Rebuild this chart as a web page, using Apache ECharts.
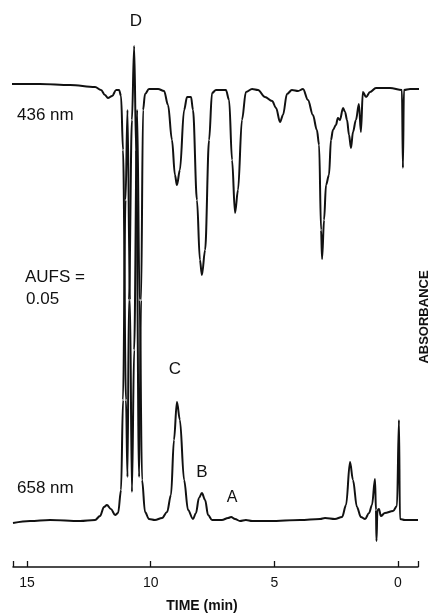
<!DOCTYPE html>
<html>
<head>
<meta charset="utf-8">
<script src="https://cdn.jsdelivr.net/npm/echarts@6.0.0/dist/echarts.min.js"></script>
<style>
  html, body { margin: 0; padding: 0; background: #fff; }
  #chart { width: 431px; height: 616px; }
</style>
</head>
<body>
<div id="chart"></div>
<script>
// retention time (min) and detector response (arbitrary units, 0 = time axis)
var time436 = [15.69, 14.48, 13.26, 12.25, 12.01, 11.85, 11.73, 11.56, 11.40, 11.28, 11.20, 11.12, 11.00, 10.94, 10.88, 10.76, 10.67, 10.59, 10.47, 10.39, 10.31, 10.23, 10.07, 9.70, 9.46, 9.30, 9.14, 9.02, 8.94, 8.82, 8.65, 8.53, 8.37, 8.29, 8.13, 8.01, 7.93, 7.80, 7.64, 7.52, 7.36, 6.96, 6.83, 6.71, 6.59, 6.47, 6.31, 6.15, 5.90, 5.66, 5.38, 5.09, 4.93, 4.77, 4.65, 4.49, 4.29, 4.04, 3.84, 3.64, 3.44, 3.28, 3.19, 3.11, 3.07, 2.99, 2.91, 2.79, 2.71, 2.63, 2.51, 2.43, 2.35, 2.22, 2.14, 2.06, 1.98, 1.90, 1.82, 1.70, 1.58, 1.50, 1.42, 1.29, 1.13, 0.89, 0.32, -0.16, -0.20, -0.24, -0.49, -0.89];
var abs436 = [483, 483, 482, 480, 477, 472, 469, 471, 477, 477, 471, 417, 167, 90, 267, 447, 521, 417, 90, 267, 457, 473, 478, 478, 476, 462, 427, 392, 382, 397, 457, 470, 470, 457, 367, 307, 292, 317, 427, 474, 477, 477, 467, 407, 354, 377, 447, 475, 478, 477, 470, 466, 459, 445, 452, 473, 477, 476, 478, 467, 452, 437, 422, 337, 308, 347, 382, 392, 427, 437, 442, 449, 447, 459, 455, 447, 432, 419, 435, 447, 463, 435, 475, 470, 475, 479, 479, 477, 399, 477, 478, 478];

var time658 = [15.57, 14.88, 14.07, 12.86, 12.25, 12.05, 11.89, 11.77, 11.61, 11.44, 11.32, 11.20, 11.12, 11.02, 10.94, 10.84, 10.76, 10.67, 10.55, 10.45, 10.35, 10.23, 10.07, 9.83, 9.54, 9.34, 9.18, 9.06, 8.94, 8.82, 8.65, 8.49, 8.29, 8.17, 8.05, 7.93, 7.80, 7.68, 7.52, 7.12, 6.87, 6.75, 6.59, 6.39, 6.15, 5.90, 5.18, 3.96, 3.15, 2.95, 2.55, 2.26, 2.10, 1.94, 1.82, 1.66, 1.50, 1.33, 1.17, 1.05, 0.93, 0.89, 0.87, 0.83, 0.77, 0.69, 0.53, 0.20, 0.04, -0.04, -0.08, -0.28, -0.81];
var abs658 = [44, 46, 47, 46, 47, 51, 60, 62, 58, 52, 54, 77, 167, 367, 457, 267, 75, 217, 457, 267, 87, 55, 48, 47, 49, 55, 72, 127, 165, 147, 87, 57, 48, 54, 69, 74, 67, 52, 47, 47, 49, 50, 48, 46, 47, 46, 46, 47, 48, 49, 48, 50, 62, 105, 87, 60, 50, 48, 54, 62, 88, 57, 26, 57, 58, 51, 54, 56, 61, 147, 48, 47, 47];

var tickLabels = [0, 5, 10, 15];
var axisStart = 15.57;
var axisEnd = -0.81;

function pairs(t, v) {
  return t.map(function (x, i) { return [x, v[i]]; });
}

var chart = echarts.init(document.getElementById("chart"));
var font = "Liberation Sans, Arial, sans-serif";

function label(text, x, y, size, align, weight) {
  return {
    type: "text",
    x: x,
    y: y,
    style: {
      text: text,
      font: (weight || "normal") + " " + size + "px " + font,
      fill: "#111",
      textAlign: align || "center",
      textVerticalAlign: "middle"
    }
  };
}

var option = {
  backgroundColor: "#fff",
  animation: false,
  grid: { left: 13, right: 13, top: 0, bottom: 49 },
  xAxis: {
    type: "value",
    inverse: true,
    min: axisEnd,
    max: axisStart,
    splitLine: { show: false },
    axisLine: { lineStyle: { color: "#111", width: 1.5 } },
    axisTick: {
      inside: true,
      length: 6,
      lineStyle: { color: "#111", width: 1.3 },
      customValues: [axisStart, 15, 10, 5, 0, axisEnd]
    },
    axisLabel: {
      customValues: tickLabels,
      color: "#111",
      fontSize: 14,
      fontFamily: font,
      margin: 9
    }
  },
  yAxis: {
    type: "value",
    min: 0,
    max: 567,
    show: false
  },
  series: [
    {
      name: "436 nm",
      type: "line",
      data: pairs(time436, abs436),
      showSymbol: false,
      smooth: 0.35,
      smoothMonotone: "x",
      lineStyle: { color: "#111", width: 2 }
    },
    {
      name: "658 nm",
      type: "line",
      data: pairs(time658, abs658),
      showSymbol: false,
      smooth: 0.35,
      smoothMonotone: "x",
      lineStyle: { color: "#111", width: 2 }
    }
  ],
  graphic: [
    label("D", 136, 21, 17),
    label("436 nm", 17, 115, 17, "left"),
    label("AUFS =", 25, 277, 17, "left"),
    label("0.05", 26, 299, 17, "left"),
    label("C", 175, 369, 17),
    label("B", 202, 472, 17),
    label("A", 232, 498, 16),
    label("658 nm", 17, 488, 17, "left"),
    label("TIME (min)", 202, 606, 14, "center", "bold"),
    {
      type: "text",
      x: 424,
      y: 317,
      rotation: Math.PI / 2,
      style: {
        text: "ABSORBANCE",
        font: "bold 13px " + font,
        fill: "#111",
        textAlign: "center",
        textVerticalAlign: "middle"
      }
    }
  ]
};

chart.setOption(option);
</script>
</body>
</html>
